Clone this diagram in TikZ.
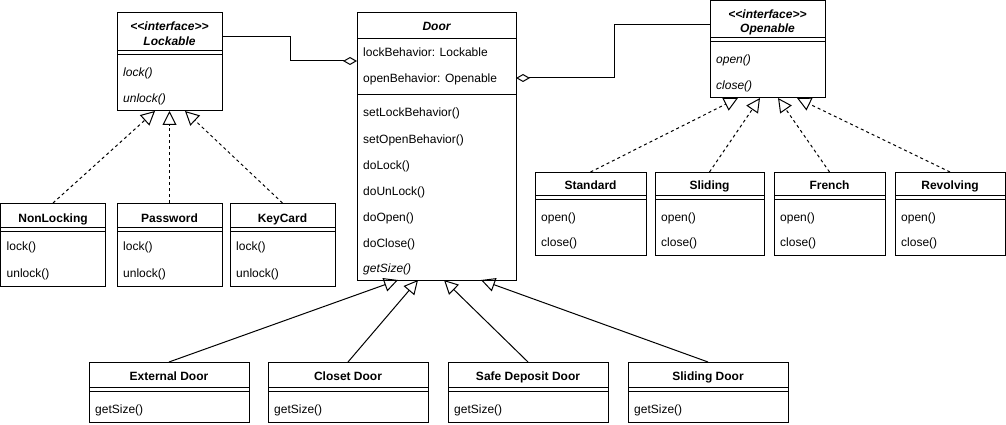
\documentclass[tikz,border=0pt]{standalone}
\usepackage{fontspec}
\setmainfont{Liberation Sans}
\usetikzlibrary{arrows.meta}
\begin{document}
\begin{tikzpicture}[x=1pt,y=-1pt,
  every node/.style={font=\fontsize{12}{14}\selectfont},
  cls/.style={draw, line width=1pt, anchor=north west, inner sep=0pt, outer sep=0pt},
  txt/.style={anchor=west, inner sep=0pt, text height=10.5pt, text depth=2.5pt},
  itxt/.style={txt, font=\fontsize{12}{14}\selectfont\itshape},
  ttl/.style={anchor=center, inner sep=0pt, text height=10.5pt, text depth=2.5pt, font=\fontsize{12}{14}\selectfont\bfseries},
  ittl/.style={ttl, font=\fontsize{12}{14}\selectfont\bfseries\itshape},
  sepline/.style={line width=1pt},
  agg/.style={line width=1pt, {Diamond[open,length=14pt,width=8pt]}-},
  realize/.style={line width=1pt, dash pattern=on 3pt off 3pt, -{Triangle[open,length=14pt,width=14pt]}},
  inherit/.style={line width=1pt, -{Triangle[open,length=14pt,width=14pt]}}
]
\useasboundingbox (0,0) rectangle (1006,425);

% ---------------- Lockable interface
\node[cls, minimum width=105pt, minimum height=98pt] (lockable) at (117,13) {};
\node[ittl] (lockable-st) at (169.5,26.5) {<\kern0pt<interface>\kern0pt>};
\node[ittl] (lockable-t) at (169.5,41.5) {Lockable};
\draw[sepline] ([yshift=-38pt]lockable.north west) -- ([yshift=-38pt]lockable.north east);
\draw[sepline] ([yshift=-42pt]lockable.north west) -- ([yshift=-42pt]lockable.north east);
\node[itxt] (lockable-m1) at (123,72.5) {lock()};
\node[itxt] (lockable-m2) at (123,99) {unlock()};

% ---------------- Door
\node[cls, minimum width=159pt, minimum height=267pt] (door) at (357,13) {};
\node[ittl] (door-t) at (436.5,27) {Door};
\draw[sepline] ([yshift=-26pt]door.north west) -- ([yshift=-26pt]door.north east);
\node[txt] (door-a1) at (363,53) {lockBehavior: Lockable};
\node[txt] (door-a2) at (363,79) {openBehavior: Openable};
\draw[sepline] ([yshift=-82pt]door.north west) -- ([yshift=-82pt]door.north east);
\node[txt] (door-m1) at (363,113) {setLockBehavior()};
\node[txt] (door-m2) at (363,139) {setOpenBehavior()};
\node[txt] (door-m3) at (363,165) {doLock()};
\node[txt] (door-m4) at (363,191) {doUnLock()};
\node[txt] (door-m5) at (363,217) {doOpen()};
\node[txt] (door-m6) at (363,243) {doClose()};
\node[itxt] (door-m7) at (363,268.5) {getSize()};

% ---------------- Openable interface
\node[cls, minimum width=115pt, minimum height=97.5pt] (openable) at (710,0.5) {};
\node[ittl] (openable-st) at (767.5,15) {<\kern0pt<interface>\kern0pt>};
\node[ittl] (openable-t) at (767.5,29) {Openable};
\draw[sepline] ([yshift=-37.5pt]openable.north west) -- ([yshift=-37.5pt]openable.north east);
\draw[sepline] ([yshift=-41.5pt]openable.north west) -- ([yshift=-41.5pt]openable.north east);
\node[itxt] (openable-m1) at (716,60) {open()};
\node[itxt] (openable-m2) at (716,86) {close()};

% ---------------- Lockable implementations
\node[cls, minimum width=105pt, minimum height=83pt] (nonlocking) at (0.5,203) {};
\node[ttl] (nonlocking-t) at (53,218) {NonLocking};
\node[txt] (nonlocking-m1) at (6.5,246) {lock()};
\node[txt] (nonlocking-m2) at (6.5,273) {unlock()};

\node[cls, minimum width=105pt, minimum height=83pt] (password) at (117,203) {};
\node[ttl] (password-t) at (169.5,218) {Password};
\node[txt] (password-m1) at (123,246) {lock()};
\node[txt] (password-m2) at (123,273) {unlock()};

\node[cls, minimum width=105pt, minimum height=83pt] (keycard) at (230,203) {};
\node[ttl] (keycard-t) at (282.5,218) {KeyCard};
\node[txt] (keycard-m1) at (236,246) {lock()};
\node[txt] (keycard-m2) at (236,273) {unlock()};

% ---------------- Openable implementations
\node[cls, minimum width=111pt, minimum height=83pt] (standard) at (535,172) {};
\node[ttl] (standard-t) at (590.5,185) {Standard};
\node[txt] (standard-m1) at (541,217) {open()};
\node[txt] (standard-m2) at (541,242.5) {close()};

\node[cls, minimum width=109pt, minimum height=83pt] (sliding) at (655,172) {};
\node[ttl] (sliding-t) at (709.5,185) {Sliding};
\node[txt] (sliding-m1) at (661,217) {open()};
\node[txt] (sliding-m2) at (661,242.5) {close()};

\node[cls, minimum width=111pt, minimum height=83pt] (french) at (774,172) {};
\node[ttl] (french-t) at (829.5,185) {French};
\node[txt] (french-m1) at (780,217) {open()};
\node[txt] (french-m2) at (780,242.5) {close()};

\node[cls, minimum width=110pt, minimum height=83pt] (revolving) at (895,172) {};
\node[ttl] (revolving-t) at (950,185) {Revolving};
\node[txt] (revolving-m1) at (901,217) {open()};
\node[txt] (revolving-m2) at (901,242.5) {close()};

% ---------------- Door subclasses
\node[cls, minimum width=160pt, minimum height=60pt] (external) at (89,362) {};
\node[ttl] (external-t) at (169,376) {External Door};
\node[txt] (external-m1) at (95,409) {getSize()};

\node[cls, minimum width=160pt, minimum height=60pt] (closet) at (268,362) {};
\node[ttl] (closet-t) at (348,376) {Closet Door};
\node[txt] (closet-m1) at (274,409) {getSize()};

\node[cls, minimum width=160pt, minimum height=60pt] (safe) at (448,362) {};
\node[ttl] (safe-t) at (528,376) {Safe Deposit Door};
\node[txt] (safe-m1) at (454,409) {getSize()};

\node[cls, minimum width=160pt, minimum height=60pt] (slidingdoor) at (628,362) {};
\node[ttl] (slidingdoor-t) at (708,376) {Sliding Door};
\node[txt] (slidingdoor-m1) at (634,409) {getSize()};

% ---------------- double separators under class names
\foreach \n/\a/\b in {nonlocking/24.5/28, password/24.5/28, keycard/24.5/28,
                      standard/23.5/27, sliding/23.5/27, french/23.5/27, revolving/23.5/27,
                      external/25.5/29.5, closet/25.5/29.5, safe/25.5/29.5, slidingdoor/25.5/29.5} {
  \draw[sepline] ([yshift=-\a pt]\n.north west) -- ([yshift=-\a pt]\n.north east);
  \draw[sepline] ([yshift=-\b pt]\n.north west) -- ([yshift=-\b pt]\n.north east);
}

% ---------------- aggregations
\draw[agg] ([yshift=-48pt]door.north west) -- ++(-67,0) |- ([yshift=-24pt]lockable.north east);
\draw[agg] ([yshift=-65pt]door.north east) -- ++(98,0) |- ([yshift=-24.5pt]openable.north west);

% ---------------- realizations
\draw[realize] (nonlocking.north) -- ([xshift=38pt]lockable.south west);
\draw[realize] (password.north) -- (lockable.south);
\draw[realize] (keycard.north) -- ([xshift=68pt]lockable.south west);
\draw[realize] (standard.north) -- ([xshift=28pt]openable.south west);
\draw[realize] (sliding.north) -- ([xshift=50pt]openable.south west);
\draw[realize] (french.north) -- ([xshift=68pt]openable.south west);
\draw[realize] (revolving.north) -- ([xshift=87pt]openable.south west);

% ---------------- generalizations
\draw[inherit] (external.north) -- ([xshift=41pt]door.south west);
\draw[inherit] (closet.north) -- ([xshift=61pt]door.south west);
\draw[inherit] (safe.north) -- ([xshift=87pt]door.south west);
\draw[inherit] (slidingdoor.north) -- ([xshift=124pt]door.south west);
\end{tikzpicture}
\end{document}
